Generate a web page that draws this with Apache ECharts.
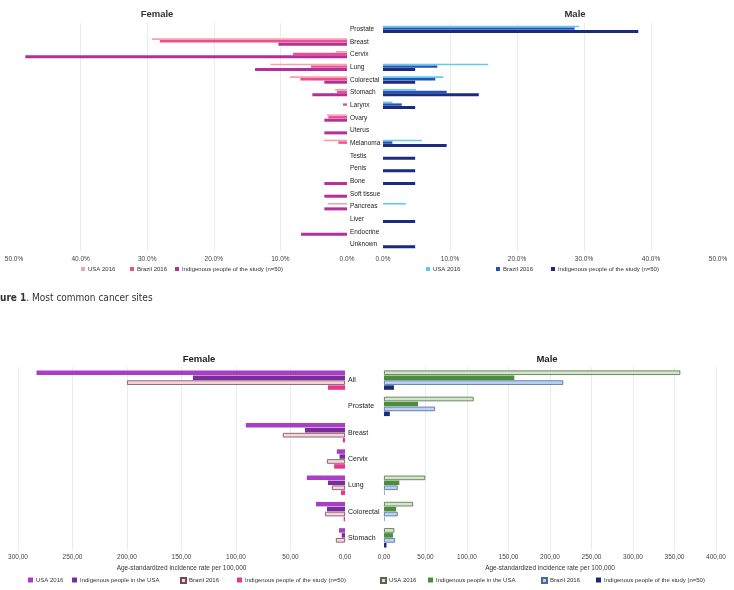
<!DOCTYPE html>
<html>
<head>
<meta charset="utf-8">
<script src="https://cdn.jsdelivr.net/npm/echarts@6/dist/echarts.min.js"></script>
<style>
html, body { margin: 0; padding: 0; background: #fff; }
#chart { width: 734px; height: 590px; }
</style>
</head>
<body>
<div id="chart"></div>
<script>
// top figure: share of cases per site (%)
var sites = ['Prostate', 'Breast', 'Cervix', 'Lung', 'Colorectal', 'Stomach', 'Larynx', 'Ovary', 'Uterus',
  'Melanoma', 'Testis', 'Penis', 'Bone', 'Soft tissue', 'Pancreas', 'Liver', 'Endocrine', 'Unknown']
var usaFemale = [null, 29.3, 1.7, 11.5, 8.6, 1.8, null, 3.0, null, 3.5, null, null, null, null, 2.9, null, null, null]
var brazilFemale = [null, 28.1, 8.1, 5.4, 7.0, 1.5, 0.6, 2.8, null, 1.3, null, null, null, null, null, null, null, null]
var studyFemale = [null, 10.3, 48.3, 13.8, 3.4, 5.2, null, 3.4, 3.4, null, null, null, 3.4, 3.4, 3.4, null, 6.9, null]
var usaMale = [29.3, null, null, 15.7, 9.0, 4.9, 1.4, null, null, 5.8, null, null, null, null, 3.4, null, null, null]
var brazilMale = [28.6, null, null, 8.1, 7.8, 9.5, 2.8, null, null, 1.4, null, null, null, null, null, null, null, null]
var studyMale = [38.1, null, null, 4.8, 4.8, 14.3, 4.8, null, null, 9.5, 4.8, 4.8, 4.8, null, null, 4.8, null, 4.8]

// bottom figure: age-standardized incidence rate per 100,000
var sites2 = ['All', 'Prostate', 'Breast', 'Cervix', 'Lung', 'Colorectal', 'Stomach']
var usaFemale2 = [283, null, 91, 7.5, 35, 26.6, 5.5]
var indUsaFemale2 = [139.5, null, 36.7, 5, 15.6, 16.5, 3]
var brazilFemale2 = [200, null, 57, 16.5, 12, 18.3, 8.3]
var studyFemale2 = [15.6, null, 2, 10, 3.7, 1.2, null]
var usaMale2 = [357, 108, null, null, 49.7, 35, 12.4]
var indUsaMale2 = [157, 41, null, null, 18.5, 14.6, 10.8]
var brazilMale2 = [216, 61.5, null, null, 16.5, 16.5, 13.3]
var studyMale2 = [12, 7, null, null, 0.5, 0.5, 3]

var font = 'Liberation Sans, Arial, sans-serif'
var pct = function (v) { return v.toFixed(1) + '%' }
var rate = function (v) { return v.toFixed(2).replace('.', ',') }

function valueAxis (idx, max, step, inverse, fmt, name, showMax, margin) {
  return {
    type: 'value', gridIndex: idx, min: 0, max: max, interval: step, inverse: inverse,
    axisLine: {show: false}, axisTick: {show: false},
    axisLabel: {formatter: fmt, fontSize: 6.5, color: '#444', fontFamily: font, margin: margin},
    splitLine: {show: true, showMinLine: false, showMaxLine: showMax, lineStyle: {color: '#ebebeb', width: 1}},
    name: name, nameLocation: 'middle', nameGap: 14,
    nameTextStyle: {fontSize: 6.5, color: '#333', fontFamily: font}
  }
}
function catAxis (idx, cats, pos, showLabels, size) {
  return {
    type: 'category', gridIndex: idx, data: cats, inverse: true, position: pos,
    axisLine: {show: false}, axisTick: {show: false},
    axisLabel: {show: showLabels, fontSize: size, color: '#222', fontFamily: font, margin: 3, align: 'left'}
  }
}
function bar (name, idx, data, color, width, border) {
  return {
    type: 'bar', name: name, xAxisIndex: idx, yAxisIndex: idx, data: data,
    barWidth: width, barGap: '10%', silent: true,
    itemStyle: border ? {color: color, borderColor: border, borderWidth: 0.8} : {color: color}
  }
}
function legendItem (name, x, y, size, textSize) {
  return {
    data: [name], left: x, top: y, padding: 0, icon: 'rect', itemWidth: size, itemHeight: size,
    selectedMode: false,
    formatter: function (n) { return n.split('|')[1] },
    textStyle: {fontSize: textSize, color: '#333', fontFamily: font, padding: [0, 0, 0, -2]}
  }
}

var topSeries = [
  bar('f1|USA 2016', 0, usaFemale, '#f7a0b4', 1.6),
  bar('f2|Brazil 2016', 0, brazilFemale, '#ea4f8e', 2.4),
  bar('f3|Indigenous people of the study (n=50)', 0, studyFemale, '#b22f9c', 3),
  bar('m1|USA 2016', 1, usaMale, '#5fcbef', 1.6),
  bar('m2|Brazil 2016', 1, brazilMale, '#2154b4', 2.4),
  bar('m3|Indigenous people of the study (n=50)', 1, studyMale, '#1a2b80', 3)
]
var bottomSeries = [
  bar('g1|USA 2016', 2, usaFemale2, '#a83ec4', 4.5),
  bar('g2|Indigenous people in the USA', 2, indUsaFemale2, '#7c2b9e', 4.5),
  bar('g3|Brazil 2016', 2, brazilFemale2, '#f7d4dc', 4.5, '#6e4a55'),
  bar('g4|Indigenous people of the study (n=50)', 2, studyFemale2, '#e8368c', 4.5),
  bar('n1|USA 2016', 3, usaMale2, '#cfe8c6', 4.5, '#55684c'),
  bar('n2|Indigenous people in the USA', 3, indUsaMale2, '#4b8d3d', 4.5),
  bar('n3|Brazil 2016', 3, brazilMale2, '#bcd2ee', 4.5, '#4a6898'),
  bar('n4|Indigenous people of the study (n=50)', 3, studyMale2, '#1b2a78', 4.5)
]

var chart = echarts.init(document.getElementById('chart'))
chart.setOption({
  animation: false,
  grid: [
    {left: 14, top: 23, width: 333, height: 228},
    {left: 383, top: 23, width: 335, height: 228},
    {left: 18, top: 367, width: 327, height: 184},
    {left: 384, top: 367, width: 332, height: 184}
  ],
  xAxis: [
    valueAxis(0, 50, 10, true, pct, '', false, 5),
    valueAxis(1, 50, 10, false, pct, '', false, 5),
    valueAxis(2, 300, 50, true, rate, 'Age-standardized incidence rate per 100,000', true, 3),
    valueAxis(3, 400, 50, false, rate, 'Age-standardized incidence rate per 100,000', true, 3)
  ],
  yAxis: [
    catAxis(0, sites, 'right', true, 6.5),
    catAxis(1, sites, 'left', false, 6.5),
    catAxis(2, sites2, 'right', true, 7),
    catAxis(3, sites2, 'left', false, 7)
  ],
  legend: [
    legendItem('f1|USA 2016', 81, 266, 4, 6),
    legendItem('f2|Brazil 2016', 130, 266, 4, 6),
    legendItem('f3|Indigenous people of the study (n=50)', 175, 266, 4, 6),
    legendItem('m1|USA 2016', 426, 266, 4, 6),
    legendItem('m2|Brazil 2016', 496, 266, 4, 6),
    legendItem('m3|Indigenous people of the study (n=50)', 551, 266, 4, 6),
    legendItem('g1|USA 2016', 28, 577, 5, 6),
    legendItem('g2|Indigenous people in the USA', 72, 577, 5, 6),
    legendItem('g3|Brazil 2016', 180, 577, 5, 6),
    legendItem('g4|Indigenous people of the study (n=50)', 237, 577, 5, 6),
    legendItem('n1|USA 2016', 380, 577, 5, 6),
    legendItem('n2|Indigenous people in the USA', 428, 577, 5, 6),
    legendItem('n3|Brazil 2016', 541, 577, 5, 6),
    legendItem('n4|Indigenous people of the study (n=50)', 596, 577, 5, 6)
  ],
  graphic: [
    {type: 'text', x: 157, y: 14, style: {text: 'Female', align: 'center', verticalAlign: 'middle', fontSize: 9.5, fontWeight: 'bold', fontFamily: font, fill: '#333'}},
    {type: 'text', x: 575, y: 14, style: {text: 'Male', align: 'center', verticalAlign: 'middle', fontSize: 9.5, fontWeight: 'bold', fontFamily: font, fill: '#333'}},
    {type: 'text', x: 199, y: 359, style: {text: 'Female', align: 'center', verticalAlign: 'middle', fontSize: 9.5, fontWeight: 'bold', fontFamily: font, fill: '#222'}},
    {type: 'text', x: 547, y: 359, style: {text: 'Male', align: 'center', verticalAlign: 'middle', fontSize: 9.5, fontWeight: 'bold', fontFamily: font, fill: '#222'}},
    {
      type: 'text', x: 0, y: 298,
      style: {
        text: '{b|ure 1}. Most common cancer sites', verticalAlign: 'middle',
        fontSize: 10, fontFamily: 'Liberation Sans Narrow, DejaVu Sans Condensed, sans-serif', fill: '#333',
        rich: {b: {fontWeight: 'bold', fontSize: 10, fontFamily: 'Liberation Sans Narrow, DejaVu Sans Condensed, sans-serif', fill: '#333'}}
      }
    }
  ],
  series: topSeries.concat(bottomSeries)
})
</script>
</body>
</html>
